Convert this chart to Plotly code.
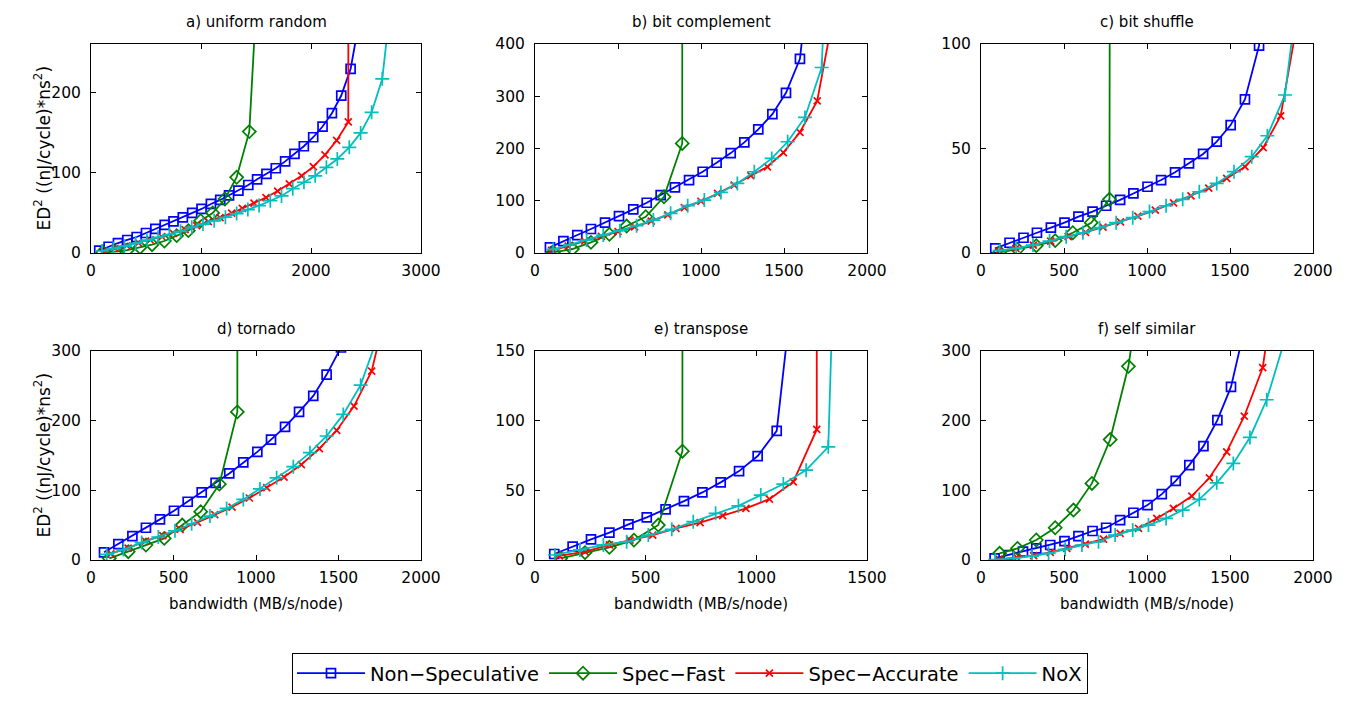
import plotly.graph_objects as go

SERIES = ["Non−Speculative", "Spec−Fast", "Spec−Accurate", "NoX"]
TITLES = ["a) uniform random", "b) bit complement", "c) bit shuffle",
          "d) tornado", "e) transpose", "f) self similar"]

# a) uniform random
A_NS_X = [75, 160, 245, 330, 415, 500, 585, 670, 750, 835, 920, 1005, 1090, 1175, 1255, 1340, 1430, 1510, 1595, 1680, 1765, 1850, 1935, 2020, 2105, 2190, 2275, 2360, 2440]
A_NS_Y = [2.9, 7.8, 12.4, 16.2, 19.9, 24.9, 29.9, 34.9, 39.4, 44.4, 49.8, 54.8, 61, 66, 71.8, 77.6, 84.6, 91.7, 98.4, 105.4, 114, 123.2, 132.8, 144, 157.3, 173.9, 195.9, 229, 290]
A_SF_X = [106, 218, 330, 445, 555, 667, 779, 885, 997, 1106, 1218, 1324, 1439, 1530]
A_SF_Y = [1, 1.6, 3.7, 7, 10.3, 14.9, 21.6, 27.8, 40.2, 49.8, 67.2, 94.2, 151, 380]
A_SA_X = [113, 219, 325, 431, 537, 643, 749, 855, 961, 1067, 1173, 1279, 1376, 1482, 1591, 1697, 1803, 1915, 2021, 2127, 2233, 2339, 2345]
A_SA_Y = [2.5, 5.8, 9, 12.5, 16.5, 20.5, 24.5, 29, 34, 39, 44, 49.5, 55.6, 62, 69, 77, 86, 96, 107.5, 122, 140, 163, 1500]
A_NX_X = [100, 202, 304, 406, 508, 610, 712, 814, 916, 1018, 1120, 1222, 1324, 1426, 1528, 1630, 1732, 1834, 1936, 2038, 2140, 2239, 2348, 2451, 2551, 2648, 2740]
A_NX_Y = [2.5, 5.5, 8.5, 12, 16, 19.5, 23, 27, 32, 36, 40, 44.5, 49, 54, 59, 65, 71, 80, 88, 96, 106.6, 117, 131.5, 149.4, 175, 216.7, 330]

# b) bit complement
B_NS_X = [90, 171, 255, 337, 422, 506, 592, 673, 757, 843, 928, 1010, 1094, 1179, 1261, 1345, 1430, 1512, 1596, 1640]
B_NS_Y = [10.8, 22.9, 34.4, 45.9, 58, 70.7, 83.5, 96.2, 110.9, 125.6, 139.6, 155.5, 172.7, 191.2, 211.6, 236.5, 265.8, 306.5, 371.5, 500]
B_SF_X = [110, 225, 337, 448, 552, 667, 777, 887, 888]
B_SF_Y = [1.3, 7.6, 20.4, 35.7, 51.6, 69.4, 107.6, 209.7, 2000]
B_SA_X = [100, 200, 300, 400, 500, 600, 700, 800, 900, 1000, 1100, 1200, 1300, 1400, 1496, 1596, 1700, 1800]
B_SA_Y = [5, 13, 23, 32, 41, 50, 61, 73, 87, 99, 114, 130, 148, 165, 192, 231, 291, 460]
B_NX_X = [110, 211, 311, 411, 512, 612, 713, 817, 920, 1020, 1120, 1219, 1321, 1426, 1522, 1626, 1727, 1760]
B_NX_Y = [7, 15.3, 24.9, 34.4, 42.7, 52.3, 63.1, 75.9, 90.5, 101.3, 115.9, 133.1, 155.5, 181, 212.9, 259.4, 355, 600]

# c) bit shuffle
C_NS_X = [86, 172, 256, 337, 421, 503, 587, 672, 754, 838, 918, 1003, 1085, 1169, 1253, 1338, 1420, 1504, 1590, 1675, 1700]
C_NS_Y = [2.2, 4.9, 7.3, 9.7, 12.1, 14.5, 17.4, 19.8, 22.6, 25.4, 28.5, 31.7, 34.9, 38.6, 42.9, 47.4, 53.3, 61.2, 73.5, 99.2, 130]
C_SF_X = [112, 220, 333, 447, 553, 664, 774, 782]
C_SF_Y = [0.3, 1.8, 3.5, 5.9, 9.7, 14.5, 25.7, 500]
C_SA_X = [105, 210, 315, 420, 525, 630, 735, 840, 945, 1050, 1160, 1265, 1372, 1480, 1590, 1700, 1805, 1900]
C_SA_Y = [1, 2.2, 3.8, 5.7, 7.8, 9.9, 12.4, 14.9, 17.6, 20.5, 24, 27.3, 31, 35.7, 41.3, 50.4, 65.6, 108]
C_NX_X = [112, 212, 313, 413, 513, 614, 714, 814, 914, 1015, 1115, 1215, 1315, 1420, 1524, 1631, 1725, 1831, 1920]
C_NX_Y = [1.1, 2.2, 3.8, 5.7, 7.8, 9.7, 12.1, 14.5, 16.9, 19.8, 22.6, 25.7, 29.3, 33.3, 38.9, 46.1, 56.1, 75.6, 132]

# d) tornado
D_NS_X = [79, 166, 251, 333, 418, 503, 586, 671, 755, 838, 923, 1008, 1091, 1176, 1261, 1347, 1428, 1515]
D_NS_Y = [11, 22.9, 34.4, 46.3, 58.3, 70.7, 83.6, 97, 110.8, 124.3, 140, 155.2, 172.9, 191, 212.6, 235.5, 266.2, 305]
D_SF_X = [111, 226, 333, 444, 553, 665, 778, 887, 888]
D_SF_Y = [2.4, 11.9, 21.5, 31, 50.2, 69.3, 108.9, 212.6, 2000]
D_SA_X = [120, 225, 330, 435, 540, 645, 750, 855, 960, 1065, 1170, 1275, 1384, 1489, 1594, 1701, 1780]
D_SA_Y = [9, 17, 27, 35, 44, 54, 65, 76, 89, 104, 119, 137, 160, 186, 221, 271, 350]
D_NX_X = [95, 196, 307, 408, 509, 610, 721, 822, 923, 1024, 1125, 1226, 1327, 1428, 1529, 1634, 1760]
D_NX_Y = [8, 15, 25, 33, 42, 52, 63, 74, 87, 102, 118, 134, 154, 178, 209, 251, 335]

# e) transpose
E_NS_X = [87, 170, 253, 336, 422, 505, 590, 673, 756, 839, 922, 1006, 1092, 1150]
E_NS_Y = [4.3, 9.6, 14.8, 19.6, 25.6, 30.6, 36.3, 42.3, 48.5, 55.7, 63.8, 74.6, 92.7, 175]
E_SF_X = [116, 226, 336, 447, 557, 666, 667]
E_SF_Y = [1.2, 5.3, 9.1, 14.3, 25.1, 78.1, 2000]
E_SA_X = [110, 226, 336, 429, 532, 637, 746, 848, 953, 1059, 1167, 1273, 1275]
E_SA_Y = [2.9, 6, 10.8, 14.3, 17.9, 22.7, 26.8, 31.8, 37, 43.7, 56.1, 93.7, 2000]
E_NX_X = [90, 203, 309, 414, 512, 618, 715, 816, 919, 1020, 1122, 1225, 1325, 1346]
E_NX_Y = [3.6, 7.2, 10.8, 13.1, 17.9, 22, 27.5, 33.5, 38.9, 46.6, 54.5, 64.5, 81.2, 190]

# f) self similar
F_NS_X = [82, 166, 253, 333, 417, 503, 587, 672, 754, 838, 918, 1003, 1089, 1173, 1255, 1340, 1424, 1506, 1590]
F_NS_Y = [2.4, 7.2, 11.9, 16.7, 21.5, 27.2, 34.4, 41.6, 46.3, 57.3, 67.8, 78.8, 94.6, 113.7, 136.2, 163.4, 200.7, 248.4, 335]
F_SF_X = [112, 220, 333, 447, 557, 668, 778, 888, 920]
F_SF_Y = [9.6, 16.7, 28.7, 46.3, 71.7, 109.9, 172.9, 278, 330]
F_SA_X = [106, 217, 317, 417, 517, 628, 738, 838, 949, 1059, 1159, 1270, 1376, 1480, 1586, 1697, 1730]
F_SA_Y = [1, 3.3, 6.2, 11, 16.7, 22.9, 30.1, 38.2, 45.4, 59.7, 74, 91.7, 118, 155.2, 206.4, 276, 330]
F_NX_X = [86, 196, 307, 407, 507, 608, 708, 808, 914, 1009, 1115, 1215, 1315, 1420, 1520, 1620, 1721, 1860]
F_NX_Y = [0.5, 2.4, 5.7, 9.6, 15.3, 21.5, 26.2, 35.8, 43, 50.2, 59.7, 71.7, 87, 110.8, 138.6, 175.9, 230, 340]

PANELS = [
    [(A_NS_X, A_NS_Y), (A_SF_X, A_SF_Y), (A_SA_X, A_SA_Y), (A_NX_X, A_NX_Y)],
    [(B_NS_X, B_NS_Y), (B_SF_X, B_SF_Y), (B_SA_X, B_SA_Y), (B_NX_X, B_NX_Y)],
    [(C_NS_X, C_NS_Y), (C_SF_X, C_SF_Y), (C_SA_X, C_SA_Y), (C_NX_X, C_NX_Y)],
    [(D_NS_X, D_NS_Y), (D_SF_X, D_SF_Y), (D_SA_X, D_SA_Y), (D_NX_X, D_NX_Y)],
    [(E_NS_X, E_NS_Y), (E_SF_X, E_SF_Y), (E_SA_X, E_SA_Y), (E_NX_X, E_NX_Y)],
    [(F_NS_X, F_NS_Y), (F_SF_X, F_SF_Y), (F_SA_X, F_SA_Y), (F_NX_X, F_NX_Y)],
]

X_RANGES = [3000, 2000, 2000, 2000, 1500, 2000]
X_DTICK = [1000, 500, 500, 500, 500, 500]
Y_RANGES = [260, 400, 100, 300, 150, 300]
Y_DTICK = [100, 100, 50, 100, 50, 100]

COLORS = ["#0000FF", "#008000", "#FF0000", "#00BFBF"]
SYMBOLS = ["square-open", "diamond-open", "x-thin", "cross-thin"]
MSIZES = [9, 10, 7, 10]

# the page has an 8px body margin: size the figure so the page fits the window
OFF = 8
W, H = 1358 - 2 * OFF, 702 - 2 * OFF
COLS_PX = [(91, 421), (535, 867), (981, 1313)]
ROWS_PX = [(44, 253), (351, 560)]
FONT = "DejaVu Sans, Liberation Sans, Arial, sans-serif"


def px(X):
    return (X - OFF) / W


def py(Y):
    return 1 - (Y - OFF) / H


fig = go.Figure()
layout = dict(width=W, height=H, margin=dict(l=0, r=0, t=0, b=0),
              paper_bgcolor="white", plot_bgcolor="white",
              font=dict(family=FONT, size=15, color="black"))
annotations = []
for p in range(6):
    r, c = divmod(p, 3)
    ax = "" if p == 0 else str(p + 1)
    x0, x1 = COLS_PX[c]
    y0, y1 = ROWS_PX[r]
    axis_common = dict(showgrid=False, zeroline=False, showline=True, linecolor="black",
                       linewidth=1, mirror="ticks", ticks="inside", ticklen=5,
                       tickcolor="black", tickfont=dict(size=15.5, family=FONT),
                       automargin=False)
    layout["xaxis" + ax] = dict(domain=[px(x0), px(x1)], range=[0, X_RANGES[p]],
                                dtick=X_DTICK[p], tick0=0, anchor="y" + ax,
                                ticklabelstandoff=3, **axis_common)
    layout["yaxis" + ax] = dict(domain=[py(y1), py(y0)], range=[0, Y_RANGES[p]],
                                dtick=Y_DTICK[p], tick0=0, anchor="x" + ax,
                                ticklabelstandoff=6, **axis_common)
    for s in range(4):
        xs, ys = PANELS[p][s]
        fig.add_trace(go.Scatter(
            x=xs, y=ys, mode="lines+markers", name=SERIES[s],
            legendgroup=SERIES[s], showlegend=(p == 0),
            line=dict(color=COLORS[s], width=1.8),
            marker=dict(symbol=SYMBOLS[s], size=MSIZES[s], color=COLORS[s],
                        line=dict(color=COLORS[s], width=1.7)),
            xaxis="x" + ax, yaxis="y" + ax, cliponaxis=True))
    annotations.append(dict(text=TITLES[p], x=px((x0 + x1) / 2), y=py(y0 - 22),
                            xref="paper", yref="paper", showarrow=False,
                            xanchor="center", yanchor="middle", font=dict(size=15)))
    if r == 1:
        annotations.append(dict(text="bandwidth (MB/s/node)", x=px((x0 + x1) / 2),
                                y=py(604), xref="paper", yref="paper", showarrow=False,
                                xanchor="center", yanchor="middle", font=dict(size=15)))
    if c == 0:
        annotations.append(dict(text="ED<sup>2</sup> ((nJ/cycle)*ns<sup>2</sup>)",
                                x=px(42), y=py((y0 + y1) / 2), xref="paper", yref="paper",
                                showarrow=False, textangle=-90, xanchor="center",
                                yanchor="middle", font=dict(size=17)))

layout["annotations"] = annotations
# legend kept fully inside the figure so it does not push the margins
layout["legend"] = dict(orientation="h", x=px(690), xanchor="center", y=0,
                        yanchor="bottom", bordercolor="black", borderwidth=1,
                        bgcolor="white", itemwidth=68, font=dict(size=19.5, family=FONT))
fig.update_layout(**layout)
fig.write_html("out.html")
